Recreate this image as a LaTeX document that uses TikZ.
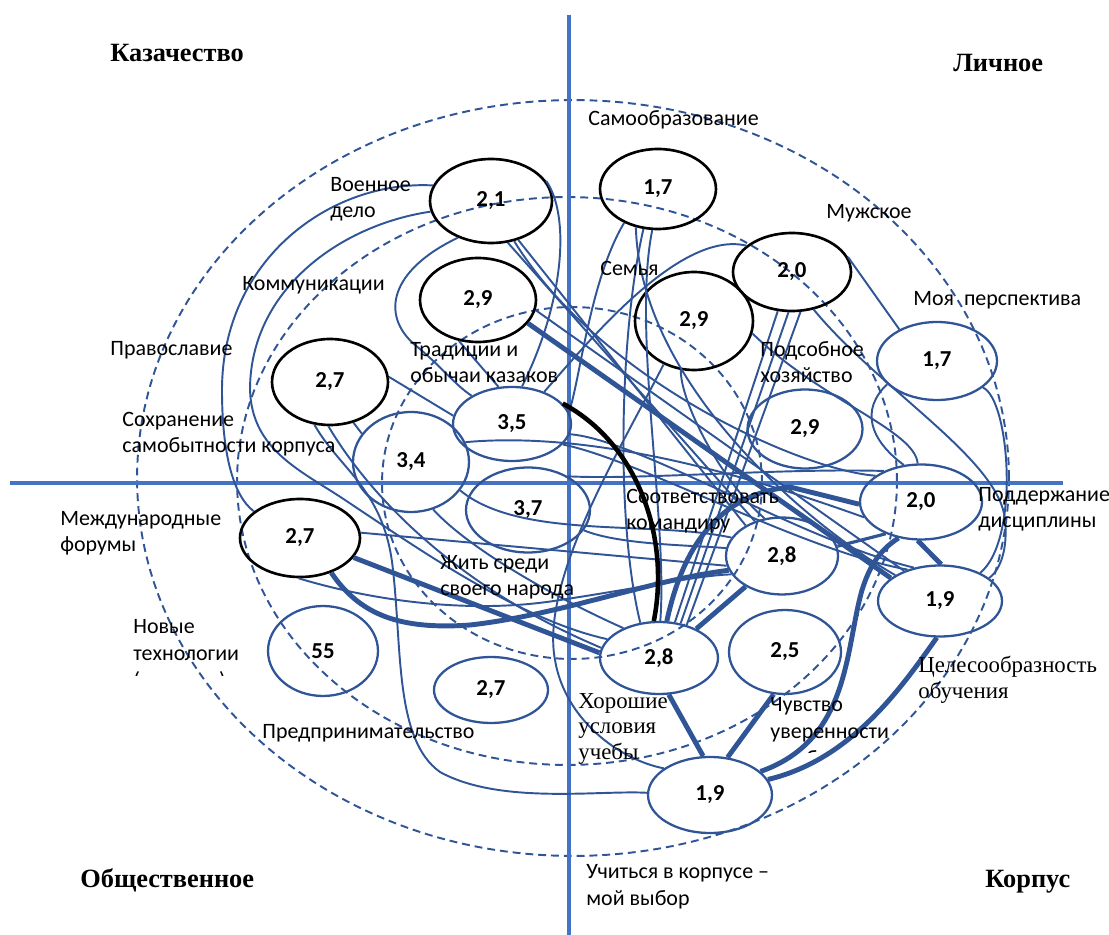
\documentclass[tikz,border=0pt]{standalone}
\usepackage{fontspec}
\setmainfont{Carlito}
\newfontfamily\tnr{Liberation Serif}
\usetikzlibrary{shapes.geometric}
\definecolor{cblue}{HTML}{2F5597}
\definecolor{axblue}{HTML}{4472C4}
\begin{document}
\begin{tikzpicture}[x=0.02cm,y=-0.02cm,
  conn/.style={draw=cblue, line width=1.1pt},
  mid/.style={draw=cblue, line width=1.8pt},
  thk/.style={draw=cblue, line width=2.8pt},
  blk/.style={draw=black, line width=2.6pt},
  ellB/.style={ellipse, draw=black, line width=1.5pt, inner sep=0pt, font=\bfseries\fontsize{13}{15}\selectfont},
  ellC/.style={ellipse, draw=cblue, line width=1.3pt, inner sep=0pt, font=\bfseries\fontsize{13}{15}\selectfont},
  ring/.style={draw=cblue, line width=1.1pt, dash pattern=on 4.5pt off 2.8pt},
  axisline/.style={draw=axblue, line width=2.6pt},
  lab/.style={anchor=base west, inner sep=0pt, align=left, font=\fontsize{12.5}{15.3}\selectfont},
  tlab/.style={anchor=base west, inner sep=0pt, align=left, font=\tnr\fontsize{13}{14.3}\selectfont},
  title/.style={anchor=base west, inner sep=0pt, font=\tnr\bfseries\fontsize{15}{18}\selectfont}]
\useasboundingbox (0,0) rectangle (1109,935);

% dashed rings
\draw[ring] (573,478) ellipse [x radius=8.72cm, y radius=7.56cm];
\draw[ring] (567,481) ellipse [x radius=6.6cm, y radius=5.68cm];
\draw[ring] (572,483) ellipse [x radius=3.8cm, y radius=3.52cm];

% axes
\coordinate (vt) at (569,15);
\coordinate (vb) at (569,935);
\coordinate (hl) at (10,483);
\coordinate (hr) at (1063,483);
\draw[axisline] (vt) -- (vb);
\draw[axisline] (hl) -- (hr);

% ellipses
\node[ellB, minimum width=2.44cm, minimum height=1.68cm] (A) at (491,201) {2,1};
\node[ellB, minimum width=2.32cm, minimum height=1.68cm] (B) at (478,300) {2,9};
\node[ellB, minimum width=2.32cm, minimum height=1.72cm] (C) at (330,382) {2,7};
\node[ellC, minimum width=2.36cm, minimum height=1.48cm] (D) at (512,424) {3,5};
\node[ellC, minimum width=2.32cm, minimum height=2.00cm] (E) at (411,462) {3,4};
\node[ellC, minimum width=2.48cm, minimum height=1.70cm] (F) at (528,510) {3,7};
\node[ellB, minimum width=2.40cm, minimum height=1.56cm] (G) at (300,538) {2,7};
\node[ellC, minimum width=2.20cm, minimum height=1.80cm] (H) at (323,651) {55};
\node[ellC, minimum width=2.28cm, minimum height=1.32cm] (I) at (491,690) {2,7};
\node[ellC, minimum width=2.36cm, minimum height=1.44cm] (J) at (659,658) {2,8};
\node[ellC, minimum width=2.24cm, minimum height=1.68cm] (K) at (785,652) {2,5};
\node[ellC, minimum width=2.48cm, minimum height=1.52cm] (L) at (710,795) {1,9};
\node[ellC, minimum width=2.24cm, minimum height=1.54cm] (M) at (782,556) {2,8};
\node[ellC, minimum width=2.44cm, minimum height=1.50cm] (N) at (921,502) {2,0};
\node[ellC, minimum width=2.48cm, minimum height=1.42cm] (O) at (940,601) {1,9};
\node[ellC, minimum width=2.30cm, minimum height=1.58cm] (P) at (805,429) {2,9};
\node[ellC, minimum width=2.40cm, minimum height=1.56cm] (Q) at (937,361) {1,7};
\node[ellB, minimum width=2.36cm, minimum height=1.56cm] (R) at (792,272) {2,0};
\node[ellB, minimum width=2.36cm, minimum height=1.96cm] (S) at (694,321) {2,9};
\node[ellB, minimum width=2.32cm, minimum height=1.60cm] (T) at (658,189) {1,7};

% thin connectors
\draw[conn] (A.165) .. controls (330,180) and (222,260) .. (222,390) .. controls (222,450) and (232,495) .. (G.150);
\draw[conn] (A.190) .. controls (340,225) and (250,290) .. (250,390) .. controls (252,450) and (300,470) .. (345,500) .. controls (420,550) and (520,620) .. (J.160);
\draw[conn] (A.228) .. controls (390,270) and (380,315) .. (415,345) .. controls (440,365) and (455,385) .. (D.145);
\draw[conn] (A.20) .. controls (570,215) and (565,300) .. (D.75);
\draw[conn] (A.305) -- (M.140);
\draw[conn] (A.292) -- (M.128);
\draw[conn] (A.300) .. controls (600,380) and (800,470) .. (N.150);
\draw[conn] (B.245) -- (D.110);
\draw[conn] (B.350) -- (O.140);
\draw[conn] (C.5) -- (D.172);
\draw[conn] (C.300) -- (E.150);
\draw[conn] (C.250) .. controls (340,470) and (385,490) .. (393,570) .. controls (402,650) and (395,740) .. (440,772) .. controls (500,805) and (600,790) .. (L.178);
\draw[conn] (C.268) .. controls (360,480) and (440,580) .. (J.170);
\draw[conn] (E.295) .. controls (470,550) and (560,600) .. (J.140);
\draw[conn] (E.330) .. controls (520,540) and (650,520) .. (M.160);
\draw[conn] (E.20) .. controls (600,430) and (760,480) .. (N.195);
\draw[conn] (G.5) -- (M.190);
\draw[conn] (G.268) .. controls (370,600) and (470,615) .. (560,600) .. controls (640,588) and (700,575) .. (M.200);
\draw[conn] (F.340) .. controls (620,545) and (690,545) .. (M.172);
\draw[conn] (F.40) .. controls (640,480) and (780,468) .. (N.140);
\draw[conn] (D.350) .. controls (640,440) and (800,540) .. (O.128);
\draw[conn] (D.338) .. controls (640,460) and (800,550) .. (O.136);
\draw[conn] (D.45) .. controls (590,340) and (680,230) .. (R.150);
\draw[conn] (T.250) .. controls (620,330) and (615,520) .. (J.118);
\draw[conn] (T.262) .. controls (632,330) and (668,520) .. (J.88);
\draw[conn] (T.225) .. controls (590,280) and (580,380) .. (D.12);
\draw[conn] (T.240) .. controls (640,380) and (800,520) .. (O.150);
\draw[conn] (S.255) .. controls (680,400) and (720,480) .. (M.115);
\draw[conn] (S.348) .. controls (820,400) and (915,430) .. (N.95);
\draw[conn] (S.235) .. controls (620,450) and (540,580) .. (555,660) .. controls (565,720) and (620,760) .. (L.150);
\draw[conn] (R.250) -- (J.66);
\draw[conn] (R.265) -- (J.58);
\draw[conn] (R.282) -- (J.50);
\draw[conn] (R.15) -- (Q.140);
\draw[conn] (R.300) .. controls (880,390) and (1000,460) .. (1005,520) .. controls (1008,550) and (1000,570) .. (O.25);
\draw[conn] (Q.205) .. controls (860,410) and (870,440) .. (N.115);
\draw[conn] (Q.330) .. controls (1010,400) and (1020,540) .. (O.35);

% thick connectors
\draw[thk] (B.335) -- (O.155);
\draw[thk] (G.340) -- (J.175);
\draw[thk] (J.285) -- (L.100);
\draw[thk] (K.255) -- (L.65);
\draw[thk] (J.38) -- (M.220);
\draw[mid] (M.10) -- (N.222);
\draw[thk] (N.265) -- (O.88);
\draw[thk] (O.265) .. controls (900,690) and (850,760) .. (L.15);
\draw[thk] (L.25) .. controls (850,740) and (845,650) .. (862,590) .. controls (870,565) and (880,550) .. (N.238);
\draw[thk] (J.78) .. controls (680,560) and (710,495) .. (790,487) -- (N.182);
\draw[thk] (G.312) .. controls (360,615) and (400,630) .. (470,625) .. controls (560,615) and (650,580) .. (M.195);
\draw[blk] (D.22) .. controls (640,445) and (670,540) .. (J.98);

% labels
\node[lab] (l1) at (330,218) {Военное\\дело};
\node[lab] (l2) at (242,291) {Коммуникации};
\node[lab] (l3) at (110,356) {Православие};
\node[lab] (l4) at (410,383) {Традиции и\\обычаи казаков};
\node[lab] (l5) at (122,453) {Сохранение\\самобытности корпуса};
\node[lab] (l6) at (60,552) {Международные\\форумы};
\node[lab] (l7) at (440,596) {Жить среди\\своего народа};
\begin{scope}
\clip (120,600) rectangle (300,675);
\node[lab] (l8) at (133,687) {Новые\\технологии\\(гаджеты)};
\end{scope}
\node[lab] (l9) at (262,738) {Предпринимательство};
\node[lab] (l10) at (588,126) {Самообразование};
\node[lab] (l11) at (826,219) {Мужское};
\node[lab] (l12) at (600,276) {Семья};
\node[lab] (l13) at (913,306) {Моя\ \ перспектива};
\node[lab] (l14) at (760,383) {Подсобное\\хозяйство};
\node[lab] (l15) at (626,530) {Соответствовать\\командиру};
\node[lab] (l16) at (978,528) {Поддержание\\дисциплины};
\node[tlab] (l17) at (918,698) {Целесообразность\\обучения};
\node[tlab] (l18) at (578,759) {Хорошие\\условия\\учебы};
\begin{scope}
\clip (760,690) rectangle (900,752);
\node[lab] (l19) at (770,765) {Чувство\\уверенности\\в себе};
\end{scope}
\node[lab] (l20) at (586,905) {Учиться в корпусе –\\мой выбор};

% titles
\node[title] (t1) at (110,62) {Казачество};
\node[title] (t2) at (953,72) {Личное};
\node[title] (t3) at (80,887) {Общественное};
\node[title] (t4) at (985,887) {Корпус};
\end{tikzpicture}
\end{document}
